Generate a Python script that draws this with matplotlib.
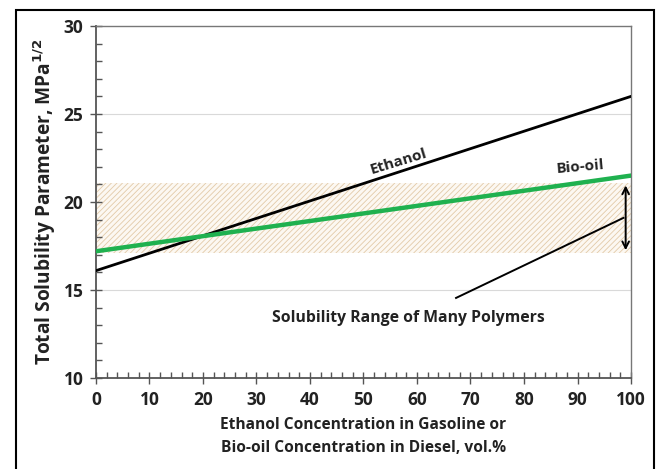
import numpy as np
import matplotlib.pyplot as plt
from matplotlib.patches import Rectangle
from matplotlib.ticker import MultipleLocator

plt.rcParams['font.family'] = ['Open Sans', 'DejaVu Sans']
plt.rcParams['hatch.linewidth'] = 0.6

# data
conc = [0, 100]
ethanol = [16.1, 26.0]
biooil = [17.2, 21.5]
poly_range = [17.1, 21.1]

fig = plt.figure(figsize=(6.56, 4.69), dpi=100)
ax = fig.add_axes([0.1463, 0.194, 0.8156, 0.7506])

# solubility band of polymers
plt.rcParams['hatch.color'] = '#e2caa8'
ax.fill_between(conc, poly_range[0], poly_range[1], facecolor='#fcf8f2',
                hatch='//////', edgecolor='#e2caa8', linewidth=0, zorder=1)

ax.plot(conc, ethanol, color='black', lw=2.0, zorder=3)
ax.plot(conc, biooil, color='#1fb14f', lw=3.2, zorder=4)

# grid lines
for yv in [15, 20, 25]:
    ax.axhline(yv, color='#d9d9d9', lw=0.8, zorder=0)

# arrow for the range
ax.annotate('', xy=(99.0, poly_range[0]), xytext=(99.0, poly_range[1]),
            arrowprops=dict(arrowstyle='<->', color='black', lw=1.4, mutation_scale=12),
            zorder=5)
ax.plot([67.3, 98.6], [14.55, 19.1], color='black', lw=1.4, zorder=5)

ax.text(58.3, 13.4, 'Solubility Range of Many Polymers', ha='center', va='center',
        fontsize=11.3, fontweight='bold', color='#222222')
ax.text(56.6, 22.3, 'Ethanol', ha='center', va='center', rotation=17,
        fontsize=11, fontweight='bold', color='#222222')
ax.text(90.5, 22.0, 'Bio-oil', ha='center', va='center', rotation=5,
        fontsize=11, fontweight='bold', color='#222222')

ax.set_xlim(0, 100)
ax.set_ylim(10, 30)
ax.xaxis.set_major_locator(MultipleLocator(10))
ax.xaxis.set_minor_locator(MultipleLocator(2))
ax.yaxis.set_major_locator(MultipleLocator(5))
ax.yaxis.set_minor_locator(MultipleLocator(1))
ax.tick_params(which='major', direction='inout', length=8, width=1, color='#555555',
               labelsize=12.5, pad=5)
ax.tick_params(which='minor', direction='in', length=4, width=1, color='#555555')
for lab in ax.get_xticklabels() + ax.get_yticklabels():
    lab.set_fontweight('bold')
    lab.set_color('#222222')

for s in ['left', 'bottom']:
    ax.spines[s].set_color('#555555')
    ax.spines[s].set_linewidth(1.3)
for s in ['top', 'right']:
    ax.spines[s].set_color('#777777')
    ax.spines[s].set_linewidth(1.0)

ax.set_xlabel('Ethanol Concentration in Gasoline or\nBio-oil Concentration in Diesel, vol.%',
              fontsize=11.2, fontweight='bold', color='#222222', labelpad=6, linespacing=1.6)
ax.set_ylabel('Total Solubility Parameter, MPa$^{\\mathbf{1/2}}$', fontsize=13.8,
              fontweight='bold', color='#222222', labelpad=4)

# outer border of the figure
fig.patches.append(Rectangle((16 / 656, -0.02), 638 / 656, 1.02 - 10 / 469,
                             transform=fig.transFigure, fill=False,
                             edgecolor='black', lw=1.5))

fig.savefig('out.png', dpi=100)
